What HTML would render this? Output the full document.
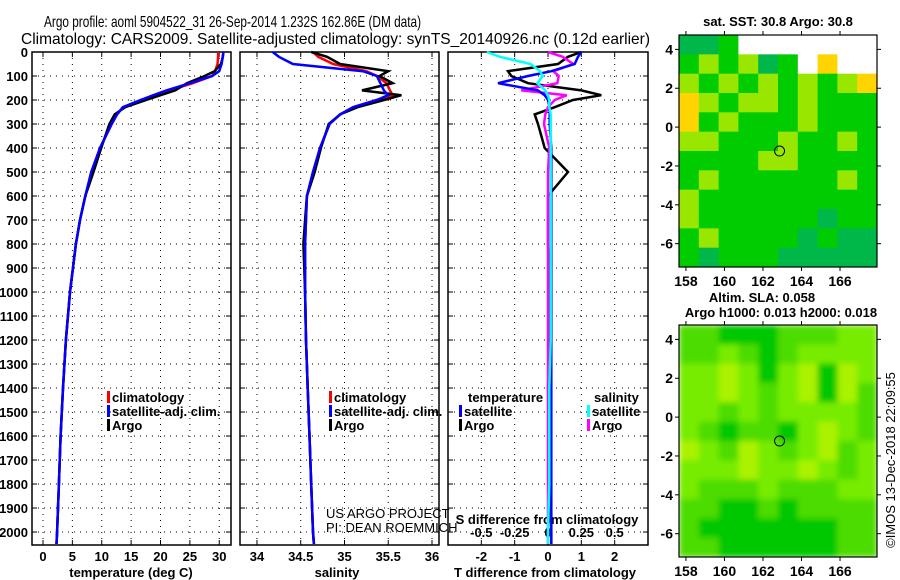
<!DOCTYPE html>
<html><head><meta charset="utf-8">
<style>
html,body{margin:0;padding:0;background:#fff;}
svg{display:block;font-family:"Liberation Sans",sans-serif;}
.tk{font-size:13px;font-weight:bold;}
</style></head>
<body>
<svg id="chart" width="900" height="580" viewBox="0 0 900 580" xmlns="http://www.w3.org/2000/svg">
<defs>
<filter id="blur" x="0" y="0" width="1" height="1"><feGaussianBlur stdDeviation="3" edgeMode="duplicate"/></filter>
<clipPath id="slaclip"><rect x="679" y="325" width="198" height="232"/></clipPath>
</defs>
<text x="44" y="27" font-size="16" textLength="377" lengthAdjust="spacingAndGlyphs">Argo profile: aoml 5904522_31 26-Sep-2014 1.232S 162.86E (DM data)</text>
<text x="21" y="44" font-size="16" textLength="629" lengthAdjust="spacingAndGlyphs">Climatology: CARS2009. Satellite-adjusted climatology: synTS_20140926.nc (0.12d earlier)</text>
<g id="g"></g>
</svg>
<script>
// ---- data ----
const depthTicks=[0,100,200,300,400,500,600,700,800,900,1000,1100,1200,1300,1400,1500,1600,1700,1800,1900,2000];
const tempTicks=[0,5,10,15,20,25,30];
const salTicks=[34,34.5,35,35.5,36];
const tdTicks=[-2,-1,0,1,2];
const sdTicks=[-0.5,-0.25,0,0.25,0.5];
const sdTickLabels=["-0.5","-0.25","0","0.25","0.5"];
const depths=[0,20,50,80,100,130,160,180,200,230,260,300,400,500,600,700,800,1000,1200,1400,1600,1800,2000,2050];
const tempClim=[29.8,29.8,29.7,29.3,28.8,25.5,21.5,19,17,13.6,12.6,11.7,9.7,8.3,7.2,6.3,5.6,4.6,3.9,3.4,3.0,2.7,2.4,2.3];
const tempSat=[30.7,30.6,30.4,30.0,28.8,25,21,18.8,16.6,13.6,12.6,11.7,9.7,8.2,7.2,6.3,5.6,4.6,3.9,3.4,3.0,2.7,2.4,2.3];
const tempArgo=[30.7,30.6,30.3,29.2,27.5,24.5,22.5,20,17.5,14.0,12.2,11.3,9.9,8.6,7.2,6.3,5.6,4.6,3.9,3.4,3.0,2.7,2.4,2.3];
const salClim=[34.64,34.7,34.87,35.25,35.37,35.48,35.52,35.55,35.37,35.1,34.95,34.83,34.72,34.64,34.57,34.56,34.55,34.55,34.56,34.58,34.6,34.62,34.64,34.65];
const salSat=[34.18,34.25,34.41,35.21,35.37,35.41,35.45,35.5,35.37,35.1,34.95,34.83,34.72,34.64,34.57,34.56,34.55,34.55,34.56,34.58,34.6,34.62,34.64,34.65];
const salArgo=[34.62,34.8,34.95,35.5,35.4,35.55,35.2,35.65,35.45,35.15,34.95,34.82,34.73,34.66,34.57,34.55,34.53,34.55,34.56,34.58,34.6,34.62,34.64,34.65];
const tdSat=[1.0,0.9,0.8,0.1,-0.6,-1.5,-0.3,-0.1,0,0.05,0.05,0.05,0.1,0.1,0.1,0.1,0.1,0.1,0.1,0.1,0.1,0.1,0.1,0.1];
const tdArgo=[1.0,0.6,0.3,-1.2,-1.1,-0.6,1.0,1.6,0.75,0.2,-0.4,-0.3,-0.1,0.6,0,0,0,0.05,0.05,0,0.05,0.05,0.1,0.1];
const sdSat=[-0.46,-0.36,-0.13,-0.06,-0.04,-0.08,-0.02,0,0.01,0.01,0.02,0.02,0.02,0.02,0.02,0.02,0.02,0.02,0.02,0.01,0.01,0.01,0.0,0.0];
const sdArgo=[0,0.11,0.19,0.04,0.08,0.07,-0.2,0.14,0.05,0.0,-0.02,-0.03,0.01,0,0,0,0,0,0,0,0,0,0,0];
const lonTicks=[158,160,162,164,166];
const latTicks=[4,2,0,-2,-4,-6];
const floatLon=162.86, floatLat=-1.232;
const sstGrid=[
[2,2,1,0,0,0,0,0,0,0],
[1,3,1,3,2,1,0,4,0,0],
[3,1,3,1,3,1,3,1,3,4],
[4,3,1,3,3,1,3,1,1,1],
[4,1,3,1,1,1,3,1,1,1],
[3,3,1,1,1,3,1,1,3,1],
[1,1,1,1,3,3,1,1,1,1],
[1,3,1,1,1,1,1,1,3,1],
[3,1,1,1,1,1,1,1,1,1],
[3,1,1,1,1,1,1,2,1,1],
[1,3,1,1,1,1,2,1,2,2],
[1,2,1,1,1,2,2,2,2,2]];
const slaGrid=[
[2,2,1,1,1,2,2,2,3,3],
[2,2,3,2,1,2,3,3,3,3],
[3,3,4,3,1,3,4,1,4,3],
[3,3,4,3,2,3,4,1,4,2],
[3,3,2,3,2,3,3,3,3,2],
[3,2,1,2,2,1,3,4,3,2],
[4,3,2,4,3,2,3,4,2,3],
[3,3,3,4,3,3,4,3,2,3],
[3,2,2,2,3,2,2,2,3,3],
[2,2,1,1,2,1,2,2,2,2],
[2,1,1,1,1,1,1,1,2,2],
[2,2,1,1,1,1,1,1,2,2]];
// ---- drawing ----
const NS="http://www.w3.org/2000/svg";
const G=document.getElementById('g');
function el(t,a,p){const e=document.createElementNS(NS,t);for(const k in a)e.setAttribute(k,a[k]);(p||G).appendChild(e);return e;}
const Y0=52, Y1=545, D1=2054;
const yD=d=>Y0+(d/D1)*(Y1-Y0);
function lin(d0,d1,r0,r1){return v=>r0+(v-d0)/(d1-d0)*(r1-r0);}
const xT=lin(-1.87,32.0,32,231), xS=lin(33.806,36.08,240,439), xTD=lin(-3,3,448,648), xSD=lin(-0.75,0.75,448,648);
function frame(x0,x1,name){
  const r=el('rect',{x:x0,y:Y0,width:x1-x0,height:Y1-Y0,fill:'none',stroke:'#000','stroke-width':1.5});
  
  depthTicks.forEach(d=>{const y=yD(d);
    const gl=el('line',{x1:x0,x2:x1,y1:y,y2:y,stroke:'#000','stroke-dasharray':'1,5','stroke-width':1});
    
    el('line',{x1:x0,x2:x0+5,y1:y,y2:y,stroke:'#000'});el('line',{x1:x1-5,x2:x1,y1:y,y2:y,stroke:'#000'});});
}
function vgrid(vals,f,x0,x1,lbls,ly,name){
  vals.forEach((v,i)=>{const x=f(v);
    const gl=el('line',{x1:x,x2:x,y1:Y0,y2:Y1,stroke:'#000','stroke-dasharray':'1,5'});
    
    el('line',{x1:x,x2:x,y1:Y1-5,y2:Y1,stroke:'#000'});el('line',{x1:x,x2:x,y1:Y0,y2:Y0+5,stroke:'#000'});
    if(lbls){const t=el('text',{x:x,y:ly,'text-anchor':'middle','class':'tk'});t.textContent=lbls[i];
      }
  });
}
function line(xs,f,color,name,w){
  const pts=xs.map((v,i)=>f(v).toFixed(1)+','+yD(depths[i]).toFixed(1)).join(' ');
  const p=el('polyline',{points:pts,fill:'none',stroke:color,'stroke-width':w||2.5,'stroke-linejoin':'miter'});
  
}
function txt(x,y,s,opts,name){const t=el('text',Object.assign({x:x,y:y,'font-size':13,'font-weight':'bold'},opts||{}));t.textContent=s;
  return t;}
function legend(x,y,color,label,name){
  const r=el('rect',{x:x,y:y-11,width:3,height:12,fill:color});
  
  txt(x+5,y,label,{},name);
}
// panel 1
frame(32,231,'temperature-plot-frame');
vgrid(tempTicks,xT,32,231,tempTicks.map(String),561,'temperature-x');
depthTicks.forEach(d=>txt(28,yD(d)+5,String(d),{'text-anchor':'end'},'depth-tick-label'));
line(tempClim,xT,'#ff0000','temperature-climatology-line');
line(tempArgo,xT,'#000','temperature-argo-line');
line(tempSat,xT,'#0000ff','temperature-satellite-line');
txt(131,577,'temperature (deg C)',{'text-anchor':'middle'},'temperature-axis-title');
legend(107,402,'#f00','climatology','legend-climatology');
legend(107,416,'#00f','satellite-adj. clim.','legend-satellite-adj');
legend(107,430,'#000','Argo','legend-argo');
// panel 2
frame(240,439,'salinity-plot-frame');
vgrid(salTicks,xS,240,439,salTicks.map(String),561,'salinity-x');
line(salClim,xS,'#ff0000','salinity-climatology-line');
line(salArgo,xS,'#000','salinity-argo-line');
line(salSat,xS,'#0000ff','salinity-satellite-line');
txt(337,577,'salinity',{'text-anchor':'middle'},'salinity-axis-title');
legend(329,402,'#f00','climatology','legend-climatology-2');
legend(329,416,'#00f','satellite-adj. clim.','legend-satellite-adj-2');
legend(329,430,'#000','Argo','legend-argo-2');
txt(326,518,'US ARGO PROJECT',{'font-weight':'normal','font-size':13},'credit-project');
txt(326,532,'PI: DEAN ROEMMICH',{'font-weight':'normal','font-size':13},'credit-pi');
// panel 3
frame(448,648,'difference-plot-frame');
vgrid(tdTicks,xTD,448,648,tdTicks.map(String),561,'t-difference-x');
sdTicks.forEach((v,i)=>txt(xSD(v),537,sdTickLabels[i],{'text-anchor':'middle'},'s-difference-tick-label'));
txt(547,524,'S difference from climatology',{'text-anchor':'middle'},'s-difference-axis-title');
txt(545,577,'T difference from climatology',{'text-anchor':'middle'},'t-difference-axis-title');
line(tdArgo,xTD,'#000','t-difference-argo-line');
line(sdArgo,xSD,'#ff00ff','s-difference-argo-line');
line(tdSat,xTD,'#0000ff','t-difference-satellite-line');
line(sdSat,xSD,'#00ffff','s-difference-satellite-line');
txt(468,402,'temperature',{},'legend-temperature-heading');
legend(459,416,'#00f','satellite','legend-t-satellite');
legend(459,430,'#000','Argo','legend-t-argo');
txt(594,402,'salinity',{},'legend-salinity-heading');
legend(587,416,'#0ff','satellite','legend-s-satellite');
legend(587,430,'#f0f','Argo','legend-s-argo');
// maps
const MX0=679,MX1=877;
const mx=lin(157.64,167.92,MX0,MX1);
function map(yTop,grid,colors,name,smooth){
  const yB=yTop+232; const my=lin(4.74,-7.2,yTop,yB);
  const rows=grid.length, cols=grid[0].length;
  const cw=(MX1-MX0)/cols, ch=(yB-yTop)/rows;
  let parent=G;
  if(smooth){const cg=el('g',{'clip-path':'url(#slaclip)'});parent=el('g',{filter:'url(#blur)'},cg);}
  grid.forEach((row,r)=>row.forEach((c,k)=>{
    const cell=el('rect',{x:MX0+k*cw,y:yTop+r*ch,width:cw+0.5,height:ch+0.5,fill:colors[c]},parent);
    
  }));
  const fr=el('rect',{x:MX0,y:yTop,width:MX1-MX0,height:yB-yTop,fill:'none',stroke:'#000','stroke-width':1.2});
  
  lonTicks.forEach(v=>{const x=mx(v);el('line',{x1:x,x2:x,y1:yB,y2:yB+4,stroke:'#000'});el('line',{x1:x,x2:x,y1:yTop-4,y2:yTop,stroke:'#000'});
    txt(x,yB+19,String(v),{'text-anchor':'middle','font-size':14},name+'-lon-label');});
  latTicks.forEach(v=>{const y=my(v);el('line',{x1:MX0-4,x2:MX0,y1:y,y2:y,stroke:'#000'});el('line',{x1:MX1,x2:MX1+4,y1:y,y2:y,stroke:'#000'});
    txt(673,y+5,String(v),{'text-anchor':'end','font-size':14},name+'-lat-label');});
  const c=el('circle',{cx:mx(floatLon),cy:my(floatLat),r:5,fill:'none',stroke:'#000','stroke-width':1});
  
}
map(35,sstGrid,['#ffffff','#00cc00','#00b84a','#99e600','#ffd400'],'sst-map',false);
map(325,slaGrid,['#fff','#00c800','#4ddc00','#77ec00','#aaf200'],'sla-map',true);
txt(778,26,'sat. SST: 30.8 Argo: 30.8',{'text-anchor':'middle'},'sst-map-title');
txt(762,302,'Altim. SLA: 0.058',{'text-anchor':'middle'},'sla-map-title');
txt(781,317,'Argo h1000: 0.013 h2000: 0.018',{'text-anchor':'middle'},'sla-map-subtitle');
txt(0,0,'©IMOS 13-Dec-2018 22:09:55',{'font-weight':'normal','font-size':13,'text-anchor':'middle',transform:'translate(895,460) rotate(-90)'},'imos-timestamp');
</script>
</body></html>
